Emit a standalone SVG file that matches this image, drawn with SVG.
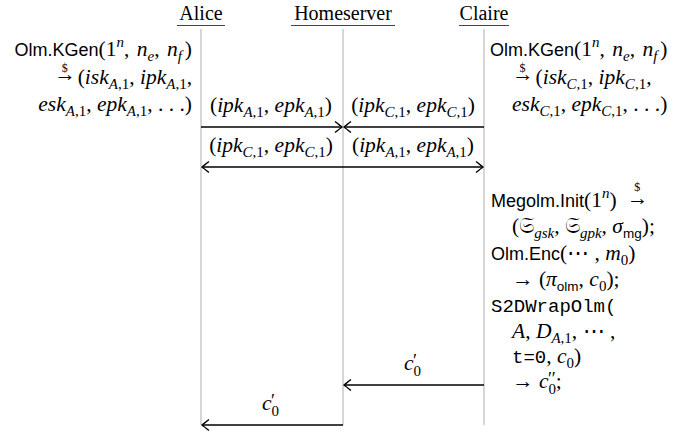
<svg xmlns="http://www.w3.org/2000/svg" width="678" height="434" viewBox="0 0 678 434">
<style>
text{font-family:"Liberation Serif",serif;font-size:21.5px;fill:#000}
.hd{font-size:20px}
.i{font-style:italic}
.sf{font-family:"Liberation Sans",sans-serif;font-size:18px;font-style:normal}
.sfs{font-family:"Liberation Sans",sans-serif;font-size:13.5px;font-style:normal}
.tt{font-family:"Liberation Mono",monospace;font-size:19px}
.sb{font-size:15px}
.pr{font-size:18px}
.dl{font-size:12px}
.fr{font-family:"DejaVu Serif","DejaVu Sans","Noto Sans",serif}
.life{stroke:#c8c8c8;stroke-width:1.5;fill:none}
.ul{stroke:#444;stroke-width:1}
.arr{stroke:#000;stroke-width:1.5;fill:none}
</style>
<defs>
<marker id="h" viewBox="-9 -7 10 14" refX="0" refY="0" markerWidth="10" markerHeight="14" markerUnits="userSpaceOnUse" orient="auto-start-reverse">
<path d="M-7,-5.5 Q-2,-1.5 0,0 Q-2,1.5 -7,5.5" fill="none" stroke="#000" stroke-width="1.4"/>
</marker>
</defs>

<g id="alice">
<text class="hd" x="201" y="20" text-anchor="middle">Alice</text>
<line class="ul" x1="177" y1="25.5" x2="225" y2="25.5"/>
<line class="life" x1="201" y1="29" x2="201" y2="425"/>
</g>
<g id="homeserver">
<text class="hd" x="343" y="20" text-anchor="middle">Homeserver</text>
<line class="ul" x1="291" y1="25.5" x2="395" y2="25.5"/>
<line class="life" x1="343" y1="29" x2="343" y2="425"/>
</g>
<g id="claire">
<text class="hd" x="484" y="20" text-anchor="middle">Claire</text>
<line class="ul" x1="459" y1="25.5" x2="509" y2="25.5"/>
<line class="life" x1="484" y1="29" x2="484" y2="425"/>
</g>

<g id="alice-kgen">
<text x="192" y="56" text-anchor="end"><tspan class="sf">Olm.KGen</tspan>(1<tspan class="sb i" dy="-9">n</tspan><tspan dy="9">, </tspan><tspan class="i" dx="2">n</tspan><tspan class="sb i" dy="5">e</tspan><tspan dy="-5">, </tspan><tspan class="i" dx="2">n</tspan><tspan class="sb i" dy="5">f</tspan><tspan dy="-5" dx="3">)</tspan></text>
<text x="192" y="84" text-anchor="end"><tspan dy="-3">→</tspan><tspan class="dl" dx="-14" dy="-9">$</tspan><tspan dx="10" dy="12">(</tspan><tspan class="i">isk</tspan><tspan class="sb" dy="5"><tspan class="i">A</tspan>,1</tspan><tspan dy="-5">, </tspan><tspan class="i">ipk</tspan><tspan class="sb" dy="5"><tspan class="i">A</tspan>,1</tspan><tspan dy="-5">,</tspan></text>
<text x="192" y="111" text-anchor="end"><tspan class="i">esk</tspan><tspan class="sb" dy="5"><tspan class="i">A</tspan>,1</tspan><tspan dy="-5">, </tspan><tspan class="i">epk</tspan><tspan class="sb" dy="5"><tspan class="i">A</tspan>,1</tspan><tspan dy="-5">, . . .)</tspan></text>
</g>

<g id="claire-kgen">
<text x="490" y="56"><tspan class="sf">Olm.KGen</tspan>(1<tspan class="sb i" dy="-9">n</tspan><tspan dy="9">, </tspan><tspan class="i" dx="2">n</tspan><tspan class="sb i" dy="5">e</tspan><tspan dy="-5">, </tspan><tspan class="i" dx="2">n</tspan><tspan class="sb i" dy="5">f</tspan><tspan dy="-5" dx="3">)</tspan></text>
<text x="512" y="84"><tspan dy="-3">→</tspan><tspan class="dl" dx="-14" dy="-9">$</tspan><tspan dx="10" dy="12">(</tspan><tspan class="i">isk</tspan><tspan class="sb" dy="5"><tspan class="i">C</tspan>,1</tspan><tspan dy="-5">, </tspan><tspan class="i">ipk</tspan><tspan class="sb" dy="5"><tspan class="i">C</tspan>,1</tspan><tspan dy="-5">,</tspan></text>
<text x="512" y="111"><tspan class="i">esk</tspan><tspan class="sb" dy="5"><tspan class="i">C</tspan>,1</tspan><tspan dy="-5">, </tspan><tspan class="i">epk</tspan><tspan class="sb" dy="5"><tspan class="i">C</tspan>,1</tspan><tspan dy="-5">, . . .)</tspan></text>
</g>

<g id="claire-megolm">
<text x="491" y="207"><tspan class="sf">Megolm.Init</tspan>(1<tspan class="sb i" dy="-9">n</tspan><tspan dy="9">)</tspan><tspan dx="10" dy="-2">→</tspan><tspan class="dl" dx="-14" dy="-14">$</tspan></text>
<text x="512" y="233">(<tspan class="fr">𝔖</tspan><tspan class="sb i" dy="5">gsk</tspan><tspan dy="-5">, </tspan><tspan class="fr">𝔖</tspan><tspan class="sb i" dy="5">gpk</tspan><tspan dy="-5">, </tspan><tspan class="i">σ</tspan><tspan class="sfs" dy="5">mg</tspan><tspan dy="-5">);</tspan></text>
<text x="491" y="260"><tspan class="sf">Olm.Enc</tspan>(⋯ , <tspan class="i">m</tspan><tspan class="sb" dy="5">0</tspan><tspan dy="-5">)</tspan></text>
<text x="512" y="286">→ (<tspan class="i">π</tspan><tspan class="sfs" dy="5">olm</tspan><tspan dy="-5">, </tspan><tspan class="i">c</tspan><tspan class="sb" dy="5">0</tspan><tspan dy="-5">);</tspan></text>
<text class="tt" x="491" y="312">S2DWrapOlm(</text>
<text x="512" y="338"><tspan class="i">A</tspan>, <tspan class="i">D</tspan><tspan class="sb" dy="5"><tspan class="i">A</tspan>,1</tspan><tspan dy="-5">, ⋯ ,</tspan></text>
<text x="512" y="363"><tspan class="tt">t=0</tspan>, <tspan class="i">c</tspan><tspan class="sb" dy="5">0</tspan><tspan dy="-5">)</tspan></text>
<text x="512" y="388">→ <tspan class="i">c</tspan><tspan class="sb" dy="6">0</tspan><tspan class="pr" dx="-8" dy="-9">′′</tspan><tspan dy="3">;</tspan></text>
</g>

<g id="connectors">
<line class="arr" x1="201" y1="127" x2="342" y2="127" marker-end="url(#h)"/>
<line class="arr" x1="484" y1="127" x2="344" y2="127" marker-end="url(#h)"/>
<line class="arr" x1="202" y1="167" x2="483" y2="167" marker-start="url(#h)" marker-end="url(#h)"/>
<line class="arr" x1="484" y1="385" x2="344" y2="385" marker-end="url(#h)"/>
<line class="arr" x1="343" y1="425" x2="202" y2="425" marker-end="url(#h)"/>

<text x="271" y="112" text-anchor="middle">(<tspan class="i">ipk</tspan><tspan class="sb" dy="5"><tspan class="i">A</tspan>,1</tspan><tspan dy="-5">, </tspan><tspan class="i">epk</tspan><tspan class="sb" dy="5"><tspan class="i">A</tspan>,1</tspan><tspan dy="-5">)</tspan></text>
<text x="413" y="112" text-anchor="middle">(<tspan class="i">ipk</tspan><tspan class="sb" dy="5"><tspan class="i">C</tspan>,1</tspan><tspan dy="-5">, </tspan><tspan class="i">epk</tspan><tspan class="sb" dy="5"><tspan class="i">C</tspan>,1</tspan><tspan dy="-5">)</tspan></text>
<text x="271" y="152" text-anchor="middle">(<tspan class="i">ipk</tspan><tspan class="sb" dy="5"><tspan class="i">C</tspan>,1</tspan><tspan dy="-5">, </tspan><tspan class="i">epk</tspan><tspan class="sb" dy="5"><tspan class="i">C</tspan>,1</tspan><tspan dy="-5">)</tspan></text>
<text x="413" y="152" text-anchor="middle">(<tspan class="i">ipk</tspan><tspan class="sb" dy="5"><tspan class="i">A</tspan>,1</tspan><tspan dy="-5">, </tspan><tspan class="i">epk</tspan><tspan class="sb" dy="5"><tspan class="i">A</tspan>,1</tspan><tspan dy="-5">)</tspan></text>
<text x="404" y="370"><tspan class="i">c</tspan><tspan class="sb" dy="6">0</tspan><tspan class="pr" dx="-8" dy="-9">′</tspan></text>
<text x="262" y="410"><tspan class="i">c</tspan><tspan class="sb" dy="6">0</tspan><tspan class="pr" dx="-8" dy="-9">′</tspan></text>
</g>
</svg>
